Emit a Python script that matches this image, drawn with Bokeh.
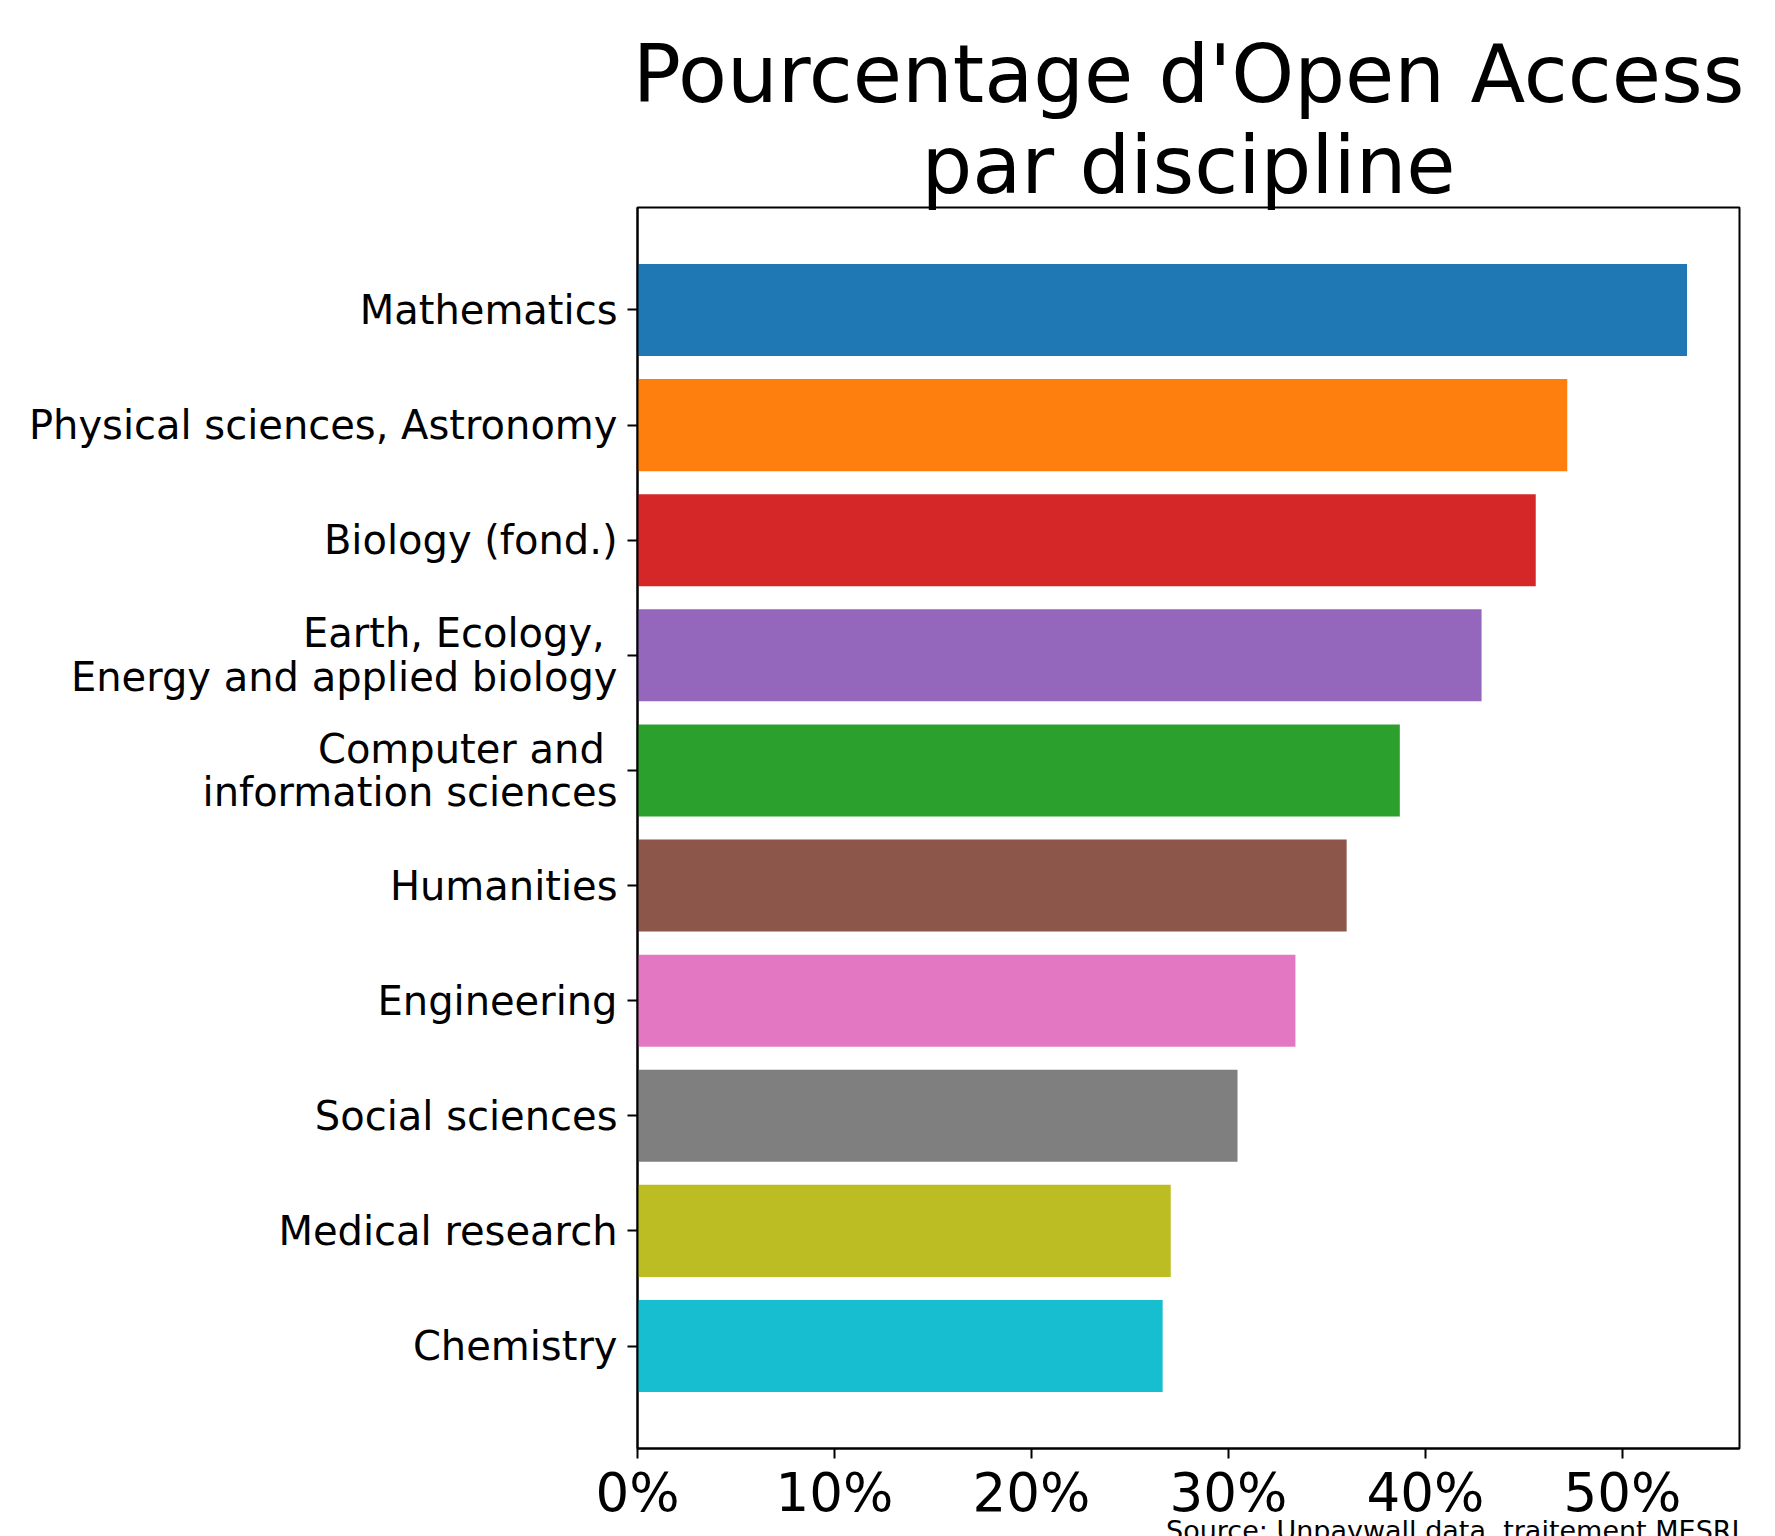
from bokeh.plotting import figure
from bokeh.models import Range1d, FixedTicker, PrintfTickFormatter, Title, ColumnDataSource
from bokeh.embed import file_html
from bokeh.resources import INLINE

# ---- data ----
disciplines = [
    "Mathematics",
    "Physical sciences, Astronomy",
    "Biology (fond.)",
    "Earth, Ecology, \nEnergy and applied biology",
    "Computer and \ninformation sciences",
    "Humanities",
    "Engineering",
    "Social sciences",
    "Medical research",
    "Chemistry",
]
oa_pct = [53.28, 47.2, 45.6, 42.85, 38.7, 36.0, 33.4, 30.46, 27.07, 26.66]
bar_colors = ["#1f77b4", "#ff7f0e", "#d62728", "#9467bd", "#2ca02c",
              "#8c564b", "#e377c2", "#7f7f7f", "#bcbd22", "#17becf"]
x_ticks = [0, 10, 20, 30, 40, 50]
title_lines = ["Pourcentage d'Open Access", "par discipline"]
source_note = "Source: Unpaywall data, traitement MESRI"

FONT = "DejaVu Sans"
n = len(disciplines)
ypos = list(range(n))
bar_h = 0.8
pad_y = 0.05 * ((n - 1) + bar_h)
xmax = max(oa_pct) * 1.05

src = ColumnDataSource(dict(y=ypos, right=oa_pct, color=bar_colors, name=disciplines))

W, H = 1775, 1536
p = figure(width=W, height=H, output_backend="svg", toolbar_location=None,
           x_range=Range1d(0, xmax),
           y_range=Range1d(n - 1 + bar_h / 2 + pad_y, -bar_h / 2 - pad_y),
           min_border_left=637, min_border_right=36, min_border_top=207,
           min_border_bottom=88)
p.title = None

p.hbar(y="y", right="right", left=0, height=bar_h, fill_color="color",
       line_color=None, source=src)

p.xgrid.grid_line_color = None
p.ygrid.grid_line_color = None
p.outline_line_color = "black"
p.outline_line_width = 2
p.outline_line_alpha = 1.0
p.background_fill_color = "white"
p.border_fill_color = "white"

for ax in (p.xaxis[0], p.yaxis[0]):
    ax.axis_line_color = "black"
    ax.axis_line_width = 2
    ax.major_tick_line_color = "black"
    ax.major_tick_line_width = 2
    ax.major_tick_out = 10
    ax.major_tick_in = 0
    ax.minor_tick_line_color = None
    ax.major_label_text_font = FONT
    ax.major_label_text_color = "black"

p.xaxis.ticker = FixedTicker(ticks=x_ticks)
p.xaxis.formatter = PrintfTickFormatter(format="%d%%")
p.xaxis.major_label_text_font_size = "53px"
p.xaxis.major_label_standoff = 3

p.yaxis.ticker = FixedTicker(ticks=ypos)
p.yaxis.major_label_overrides = {i: name for i, name in zip(ypos, disciplines)}
p.yaxis.major_label_text_font_size = "40px"
p.yaxis.major_label_text_line_height = 0.95
p.yaxis.major_label_standoff = 10

t2 = Title(text=title_lines[1], align="center", text_font=FONT, text_font_size="80px",
           text_font_style="normal", text_color="black", standoff=-8)
t1 = Title(text=title_lines[0], align="center", text_font=FONT, text_font_size="80px",
           text_font_style="normal", text_color="black", standoff=0)
p.add_layout(t2, "above")
p.add_layout(t1, "above")

note = Title(text=source_note, align="right", vertical_align="top", text_font=FONT,
             text_font_size="27px", text_font_style="normal", text_color="black",
             standoff=-22)
p.add_layout(note, "below")

open("out.html", "w").write(file_html(p, INLINE))
